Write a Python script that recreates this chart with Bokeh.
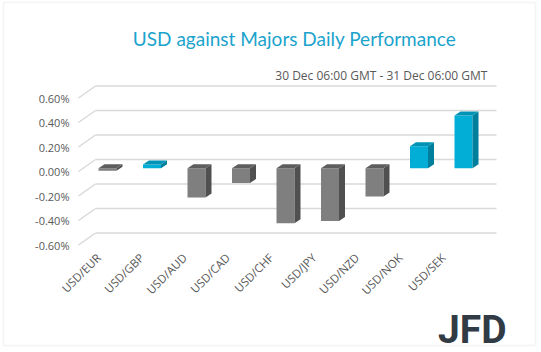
from bokeh.plotting import figure
from bokeh.models import (FixedTicker, PrintfTickFormatter, Label,
                          BoxAnnotation, Range1d, LinearAxis)
from bokeh.embed import file_html
from bokeh.resources import INLINE

# ---------------- data ----------------
pairs = ["USD/EUR", "USD/GBP", "USD/AUD", "USD/CAD", "USD/CHF",
         "USD/JPY", "USD/NZD", "USD/NOK", "USD/SEK"]
changes = [-0.02, 0.03, -0.24, -0.12, -0.45, -0.43, -0.23, 0.18, 0.43]  # percent
y_ticks = [-0.6, -0.4, -0.2, 0.0, 0.2, 0.4, 0.6]
title_text = "USD against Majors Daily Performance"
subtitle_text = "30 Dec 06:00 GMT - 31 Dec  06:00 GMT"
logo_text = "JFD"

# ---------------- style / geometry ----------------
W, H = 541, 352
X_PX, Y_PX = 43.1, 122.5          # pixels per data unit
ORIG_X, ORIG_Y = 98, 171          # pixel of (0, 0) on the front plane


def px_x(px):
    return (px - ORIG_X) / X_PX


def px_y(py):
    return (ORIG_Y - py) / Y_PX


X0, X1 = px_x(78), px_x(496)      # plot area (front-left edge, back-right edge)
BAR_STEP, BAR_OFF = 1.0325, 0.2088
BAR_W = 18 / X_PX
DDX, DDY = 6 / X_PX, 4 / Y_PX     # bar depth
BASE = 3.3 / Y_PX                 # bar plane offset
WALL_DX, WALL_DY = 17 / X_PX, 12 / Y_PX

POS = dict(front="#02AED6", side="#007F9C", top="#0093B5")
NEG = dict(front="#7F7F7F", side="#505050", top="#5E5E5E")
GRID = "#D9D9D9"
TXT = "#595959"

p = figure(width=W, height=H, output_backend="svg", toolbar_location=None,
           x_range=Range1d(px_x(0), px_x(W)), y_range=Range1d(px_y(H), px_y(0)),
           x_axis_location=None, y_axis_location=None,
           min_border=0)
p.outline_line_color = None
p.grid.visible = False
p.background_fill_color = "white"
p.border_fill_color = "white"

# chart border
p.add_layout(BoxAnnotation(left=px_x(3), right=px_x(535), top=px_y(2), bottom=px_y(345),
                           fill_color=None, line_color=GRID, line_width=1.5, level="underlay"))

# walls / gridlines
gx0, gy0, gx1, gy1 = [], [], [], []
for t in y_ticks:
    gx0 += [X0, X0 + WALL_DX]
    gy0 += [t, t + WALL_DY]
    gx1 += [X0 + WALL_DX, X1]
    gy1 += [t + WALL_DY, t + WALL_DY]
p.segment(gx0, gy0, gx1, gy1, line_color=GRID, line_width=1.5)

# 3-D bars
fl, fr, fb, ft, fc = [], [], [], [], []
sxs, sys_, scs, txs, tys, tcs = [], [], [], [], [], []
for i, v in enumerate(changes):
    cx = i * BAR_STEP + BAR_OFF
    l, r = cx - BAR_W / 2, cx + BAR_W / 2
    lo, hi = min(0, v) + BASE, max(0, v) + BASE
    pal = POS if v >= 0 else NEG
    fl.append(l); fr.append(r); fb.append(lo); ft.append(hi); fc.append(pal["front"])
    sxs.append([r, r + DDX, r + DDX, r]); sys_.append([lo, lo + DDY, hi + DDY, hi])
    scs.append(pal["side"])
    txs.append([l, r, r + DDX, l + DDX]); tys.append([hi, hi, hi + DDY, hi + DDY])
    tcs.append(pal["top"])

p.quad(left=fl, right=fr, bottom=fb, top=ft, fill_color=fc, line_color=None)
p.patches(xs=sxs, ys=sys_, fill_color=scs, line_color=None)
p.patches(xs=txs, ys=tys, fill_color=tcs, line_color=None)

# axes (fixed inside the canvas)
ya = LinearAxis(fixed_location=X0)
ya.ticker = FixedTicker(ticks=y_ticks)
ya.formatter = PrintfTickFormatter(format="%.2f%%")
xa = LinearAxis(fixed_location=px_y(250))
xa.ticker = FixedTicker(ticks=list(range(len(pairs))))
xa.major_label_overrides = {i: s for i, s in enumerate(pairs)}
xa.major_label_orientation = 0.785398
for ax, so, fs in ((ya, 9, "11px"), (xa, 5, "11.5px")):
    ax.axis_line_color = None
    ax.major_tick_line_color = None
    ax.minor_tick_line_color = None
    ax.major_tick_out = 0
    ax.major_tick_in = 0
    ax.major_label_standoff = so
    ax.major_label_text_font = "Open Sans"
    ax.major_label_text_font_size = fs
    ax.major_label_text_color = TXT
p.add_layout(ya, "left")
p.add_layout(xa, "below")

# titles and logo
p.add_layout(Label(x=px_x(294), y=px_y(38), text=title_text,
                   text_align="center", text_baseline="middle",
                   text_font="Lato", text_font_size="19px", text_color="#1BA3CC"))
p.add_layout(Label(x=px_x(490), y=px_y(75), text=subtitle_text,
                   text_align="right", text_baseline="middle",
                   text_font="Open Sans", text_font_size="12px", text_color=TXT))
p.add_layout(Label(x=px_x(506), y=px_y(329), text=logo_text,
                   text_align="right", text_baseline="middle",
                   text_font="Roboto", text_font_style="bold",
                   text_font_size="39px", text_color="#313B45"))

open("out.html", "w").write(file_html(p, INLINE))
